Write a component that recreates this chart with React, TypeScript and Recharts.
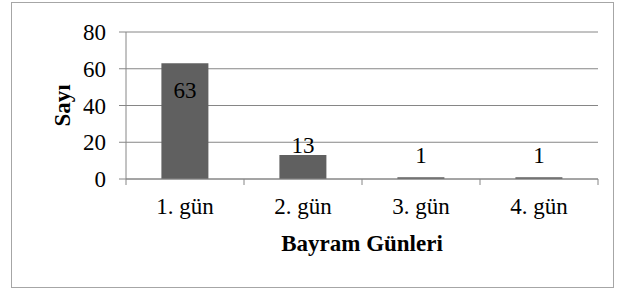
import React from 'react';
import { BarChart, Bar, XAxis, YAxis, CartesianGrid, LabelList, Label } from 'recharts';

// Bayram günlerine göre sayılar
const days = ['1. gün', '2. gün', '3. gün', '4. gün'];
const counts = [63, 13, 1, 1];
const yTicks = [0, 20, 40, 60, 80];

const data = days.map((day, i) => ({ day, count: counts[i] }));

const FONT = '"Liberation Serif", "Times New Roman", serif';
const FS = 23;
const GRID = '#868686';
const BAR = '#606060';

const X_TICK_SIZE = 6;
const X_TICK_MARGIN = 13;

// category label plus a boundary tick mark on the left (and right for the last one)
function DayTick(props: any) {
  const { x, y, payload, index, width } = props;
  const bw = width / days.length;
  const axisY = y - X_TICK_SIZE - X_TICK_MARGIN;
  return (
    <g>
      <line x1={x - bw / 2} x2={x - bw / 2} y1={axisY} y2={axisY + X_TICK_SIZE} stroke={GRID} />
      {index === days.length - 1 && (
        <line x1={x + bw / 2} x2={x + bw / 2} y1={axisY} y2={axisY + X_TICK_SIZE} stroke={GRID} />
      )}
      <text x={x} y={y} dy="0.71em" textAnchor="middle" fontFamily={FONT} fontSize={FS} fill="#000">
        {payload.value}
      </text>
    </g>
  );
}

function ValueLabel(props: any) {
  const { x, y, width, height, value } = props;
  const base = y + height;
  // tall bars get the label inside, short ones above
  const cy = value >= 50 ? y + 27 : Math.min(y - 10, base - 24);
  return (
    <text x={x + width / 2} y={cy} textAnchor="middle" dominantBaseline="central"
      fontFamily={FONT} fontSize={FS} fill="#000">
      {value}
    </text>
  );
}

export default function App() {
  return (
    <div style={{ position: 'absolute', left: 0, top: 0, width: 629, height: 291, background: '#fff' }}>
      <div style={{
        position: 'absolute', left: 11, top: 2, width: 601, height: 284,
        border: '1.5px solid #a6a6a6',
      }} />
      <div style={{ position: 'absolute', left: 0, top: 0 }}>
        <BarChart width={629} height={291} data={data}
          margin={{ top: 32, right: 31, bottom: 32, left: 46 }} barCategoryGap="30%">
          <CartesianGrid vertical={false} stroke={GRID} strokeWidth={1} />
          <XAxis dataKey="day" height={80} axisLine={{ stroke: GRID }} tickLine={false}
            tickSize={X_TICK_SIZE} tickMargin={X_TICK_MARGIN} tick={<DayTick />} interval={0}>
            <Label content={(p: any) => {
              const vb = p.viewBox;
              return (
                <text x={vb.x + vb.width / 2} y={vb.y + 64} textAnchor="middle" dominantBaseline="central"
                  fontFamily={FONT} fontSize={FS} fontWeight="bold" fill="#000">
                  Bayram Günleri
                </text>
              );
            }} />
          </XAxis>
          <YAxis width={80} domain={[0, 80]} ticks={yTicks} interval={0}
            axisLine={{ stroke: GRID }} tickLine={{ stroke: GRID }} tickSize={7} tickMargin={13}
            tick={{ fontFamily: FONT, fontSize: FS, fill: '#000' }}>
            <Label content={(p: any) => {
              const vb = p.viewBox;
              const cx = vb.x + 16;
              const cy = vb.y + vb.height / 2;
              return (
                <text x={cx} y={cy} transform={`rotate(-90 ${cx} ${cy})`} textAnchor="middle"
                  dominantBaseline="central" fontFamily={FONT} fontSize={FS} fontWeight="bold" fill="#000">
                  Sayı
                </text>
              );
            }} />
          </YAxis>
          <Bar dataKey="count" fill={BAR} isAnimationActive={false}>
            <LabelList dataKey="count" content={<ValueLabel />} />
          </Bar>
        </BarChart>
      </div>
    </div>
  );
}
